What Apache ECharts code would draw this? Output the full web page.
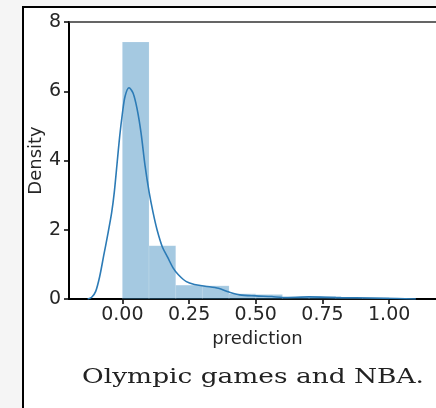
<!DOCTYPE html>
<html>
<head>
<meta charset="utf-8">
<script src="https://cdn.jsdelivr.net/npm/echarts@6/dist/echarts.min.js"></script>
<style>
  html, body { margin: 0; padding: 0; background: #f5f5f5; }
  #chart { width: 436px; height: 408px; }
</style>
</head>
<body>
<div id="chart"></div>
<script>
// histogram bins (density) of the prediction values
const binEdges = [0, 0.1, 0.2, 0.3, 0.4, 0.5, 0.6, 0.7, 0.8, 0.9, 1.0];
const binDensity = [7.42, 1.54, 0.40, 0.38, 0.15, 0.13, 0.05, 0.08, 0.05, 0.04];
// kde curve
const kdeX = [-0.13, -0.115, -0.10, -0.085, -0.07, -0.055, -0.04, -0.03, -0.02, -0.01, 0.0, 0.01, 0.025, 0.04, 0.055, 0.07, 0.085, 0.10, 0.115, 0.13, 0.15, 0.17, 0.19, 0.21, 0.24, 0.27, 0.31, 0.36, 0.40, 0.44, 0.50, 0.56, 0.60, 0.65, 0.70, 0.76, 0.82, 0.93, 1.03, 1.10];
const kdeY = [0, 0.05, 0.22, 0.65, 1.25, 1.85, 2.5, 3.1, 3.9, 4.7, 5.35, 5.85, 6.1, 5.95, 5.5, 4.8, 3.85, 3.1, 2.5, 2.0, 1.5, 1.2, 0.9, 0.7, 0.5, 0.42, 0.37, 0.31, 0.2, 0.12, 0.09, 0.07, 0.045, 0.05, 0.06, 0.05, 0.04, 0.03, 0.015, 0];
const xTicks = [0, 0.25, 0.5, 0.75, 1.0];

const histData = binDensity.map((d, i) => [binEdges[i], binEdges[i + 1], d]);
const kdeData = kdeX.map((x, i) => [x, kdeY[i]]);

const chart = echarts.init(document.getElementById("chart"));
const textColor = "#262626";

const option = {
  backgroundColor: "#f5f5f5",
  animation: false,
  grid: {
    left: 69,
    top: 22,
    width: 377,
    height: 277,
    outerBoundsMode: "none",
    show: false,
  },
  xAxis: [
    {
      type: "value",
      min: -0.2,
      max: 1.213,
      axisLine: { show: true, onZero: false, lineStyle: { color: "#000", width: 2 } },
      axisTick: { show: true, length: 5, customValues: xTicks, lineStyle: { color: "#000", width: 1.5 } },
      axisLabel: {
        customValues: xTicks,
        formatter: (v) => v.toFixed(2),
        fontFamily: "DejaVu Sans",
        fontSize: 19,
        color: textColor,
        margin: 7,
      },
      splitLine: { show: false },
      name: "prediction",
      nameLocation: "middle",
      nameGap: 31,
      nameTextStyle: { fontFamily: "DejaVu Sans", fontSize: 18, color: textColor },
    },
    {
      type: "value",
      position: "top",
      min: -0.2,
      max: 1.213,
      axisLine: { show: true, onZero: false, lineStyle: { color: "#333", width: 1.5 } },
      axisTick: { show: false },
      axisLabel: { show: false },
      splitLine: { show: false },
    },
  ],
  yAxis: {
    type: "value",
    min: 0,
    max: 8,
    interval: 2,
    axisLine: { show: true, onZero: false, lineStyle: { color: "#000", width: 2 } },
    axisTick: { show: true, length: 5, lineStyle: { color: "#000", width: 1.5 } },
    axisLabel: { fontFamily: "DejaVu Sans", fontSize: 19, color: textColor, margin: 8 },
    splitLine: { show: false },
    name: "Density",
    nameLocation: "middle",
    nameGap: 24,
    nameMoveOverlap: false,
    nameTextStyle: { fontFamily: "DejaVu Sans", fontSize: 18, color: textColor },
  },
  graphic: [
    {
      type: "rect",
      x: 23,
      y: 7,
      shape: { width: 440, height: 420 },
      style: { fill: "#fff", stroke: "#000", lineWidth: 2 },
      z: -10,
      silent: true,
    },
    {
      type: "text",
      x: 253,
      y: 378,
      scaleX: 1.32,
      style: {
        text: "Olympic games and NBA.",
        font: "20px 'DejaVu Serif'",
        fill: "#222",
        align: "center",
        verticalAlign: "middle",
      },
      silent: true,
    },
  ],
  series: [
    {
      type: "custom",
      renderItem: (params, api) => {
        const p0 = api.coord([api.value(0), api.value(2)]);
        const p1 = api.coord([api.value(1), 0]);
        return {
          type: "rect",
          shape: { x: p0[0], y: p0[1], width: p1[0] - p0[0], height: p1[1] - p0[1] },
          style: { fill: "rgba(31,119,180,0.4)", stroke: "rgba(255,255,255,0.25)", lineWidth: 0.5 },
        };
      },
      encode: { x: [0, 1], y: 2 },
      data: histData,
      z: 1,
    },
    {
      type: "line",
      data: kdeData,
      smooth: 0.3,
      showSymbol: false,
      lineStyle: { color: "#2c7bb6", width: 1.6 },
      z: 3,
    },
  ],
};
chart.setOption(option);
</script>
</body>
</html>
